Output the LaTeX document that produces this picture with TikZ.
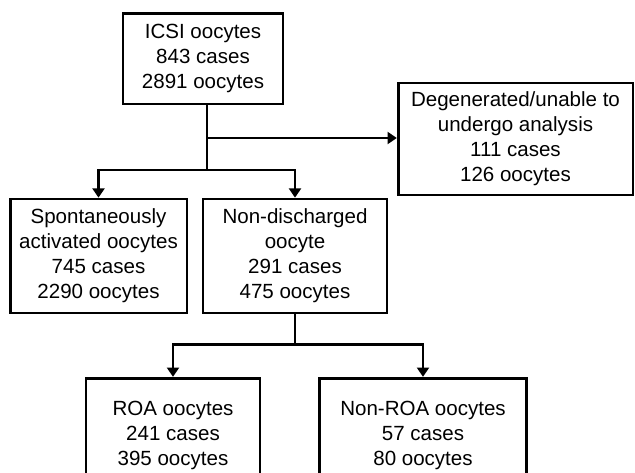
\documentclass[tikz,border=0pt]{standalone}
\usepackage{fontspec}
\setmainfont{Liberation Sans}
\usetikzlibrary{positioning, arrows.meta}

\begin{document}
\begin{tikzpicture}[
        x=0.75pt, y=-0.75pt,
        box/.style={
            draw, align=center,
            font=\fontsize{15.4pt}{18.75pt}\selectfont,
            line width=2pt, inner sep=1pt
        },
        link/.style={line width=2pt},
        arr/.style={link, -{Triangle[length=7pt,width=9pt]}}
      ]
        \useasboundingbox (0,0) rectangle (635,472);
        % boxes
        \node[box, minimum width=120pt, minimum height=68pt] (icsi) at (203,58.5)
          {ICSI oocytes\\843 cases\\2891 oocytes};
        \node[box, minimum width=176pt, minimum height=84pt] (degen) at (515.5,139)
          {Degenerated/unable to\\undergo analysis\\111 cases\\126 oocytes};
        \node[box, minimum width=132.5pt, minimum height=85.5pt] (spont) at (98.5,256)
          {Spontaneously\\activated oocytes\\745 cases\\2290 oocytes};
        \node[box, minimum width=138pt, minimum height=85.5pt] (nondis) at (295,256)
          {Non-discharged\\oocyte\\291 cases\\475 oocytes};
        \node[box, minimum width=130.5pt, minimum height=86pt] (roa) at (173,435.5)
          {ROA oocytes\\241 cases\\395 oocytes};
        \node[box, minimum width=155pt, minimum height=86pt] (nonroa) at (423,435.5)
          {Non-ROA oocytes\\57 cases\\80 oocytes};
        % connectors
        \coordinate (split) at (207,138);
        \coordinate (fork) at (207,170);
        \draw[link] (icsi.south -| split) -- (fork);
        \draw[arr] (split) -- (degen.west |- split);
        \draw[arr] (fork) -| (spont.north);
        \draw[arr] (fork) -| (nondis.north);
        \draw[link] (nondis.south) -- ++(0,30) coordinate (fork2);
        \draw[arr] (fork2) -| (roa.north);
        \draw[arr] (fork2) -| (nonroa.north);
      \end{tikzpicture}
\end{document}
